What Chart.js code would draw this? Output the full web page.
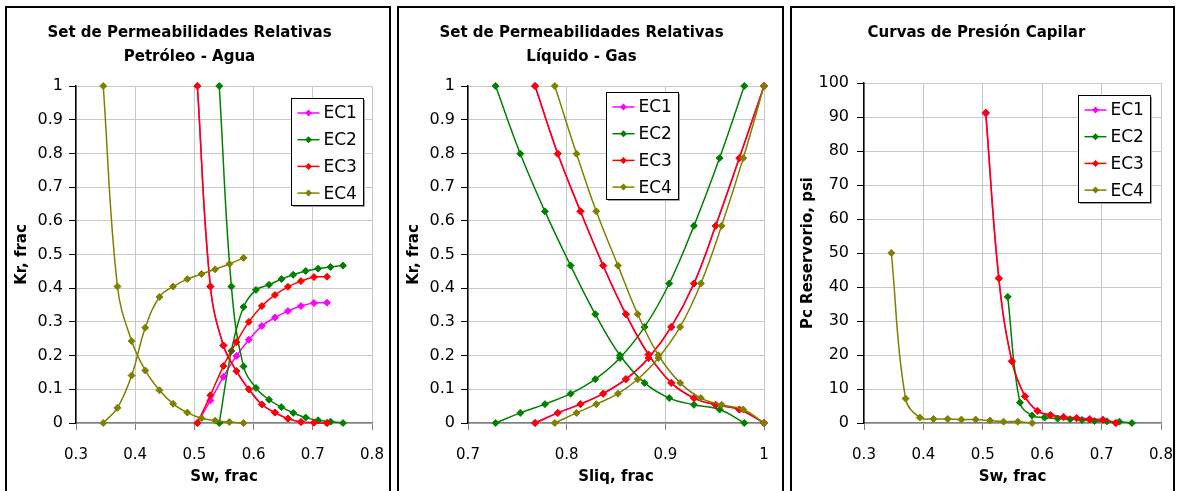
<!DOCTYPE html>
<html>
<head>
<meta charset="utf-8">
<script src="https://cdn.jsdelivr.net/npm/chart.js@4"></script>
<style>
  body { margin: 0; background: #fff; width: 1177px; height: 491px; overflow: hidden; position: relative; }
  .panel { position: absolute; top: 6px; height: 500px; border: 2px solid #000; box-sizing: border-box; background: #fff; overflow: hidden; }
  .panel canvas { position: absolute; left: 0; top: 0; }
</style>
</head>
<body>
<div class="panel" style="left:5px;width:386px"><canvas id="chartOW" width="382" height="483"></canvas></div>
<div class="panel" style="left:397px;width:387px"><canvas id="chartLG" width="383" height="483"></canvas></div>
<div class="panel" style="left:790px;width:385px"><canvas id="chartPC" width="381" height="483"></canvas></div>
<script>
/* ------------------------------------------------------------
   DATA
------------------------------------------------------------ */
const seriesNames = ["EC1", "EC2", "EC3", "EC4"];
const seriesColors = ["#FF00FF", "#008000", "#FF0000", "#808000"];

// Petróleo - Agua (Sw, Kro, Krw)
const swEC1 = [0.505, 0.527, 0.549, 0.571, 0.592, 0.614, 0.636, 0.658, 0.680, 0.702, 0.724];
const kroEC1 = [1, 0.405, 0.230, 0.154, 0.100, 0.055, 0.031, 0.013, 0.003, 0.001, 0];
const krwEC1 = [0, 0.067, 0.137, 0.199, 0.247, 0.288, 0.313, 0.332, 0.347, 0.356, 0.357];

const swEC2 = [0.542, 0.5625, 0.583, 0.604, 0.626, 0.647, 0.667, 0.688, 0.709, 0.730, 0.751];
const kroEC2 = [1, 0.405, 0.168, 0.104, 0.069, 0.047, 0.030, 0.016, 0.008, 0.004, 0];
const krwEC2 = [0, 0.214, 0.344, 0.395, 0.410, 0.427, 0.440, 0.451, 0.458, 0.463, 0.467];

const swEC3 = [0.505, 0.527, 0.549, 0.571, 0.592, 0.614, 0.636, 0.658, 0.680, 0.702, 0.724];
const kroEC3 = [1, 0.405, 0.230, 0.154, 0.100, 0.055, 0.031, 0.013, 0.003, 0.001, 0];
const krwEC3 = [0, 0.082, 0.169, 0.240, 0.300, 0.347, 0.380, 0.404, 0.421, 0.433, 0.434];

const swEC4 = [0.346, 0.370, 0.394, 0.417, 0.441, 0.464, 0.488, 0.512, 0.535, 0.559, 0.583];
const kroEC4 = [1, 0.405, 0.243, 0.156, 0.097, 0.057, 0.031, 0.014, 0.007, 0.003, 0];
const krwEC4 = [0, 0.045, 0.141, 0.283, 0.374, 0.405, 0.427, 0.442, 0.456, 0.472, 0.490];

// Líquido - Gas (Sliq, Krg, Krl)
const sliqEC1 = [0.768, 0.791, 0.814, 0.837, 0.860, 0.883, 0.906, 0.929, 0.951, 0.975, 1.0];
const krgEC1 = [1, 0.799, 0.628, 0.467, 0.323, 0.203, 0.119, 0.074, 0.054, 0.040, 0];
const krlEC1 = [0, 0.030, 0.056, 0.087, 0.130, 0.193, 0.285, 0.414, 0.585, 0.786, 1];

const sliqEC2 = [0.728, 0.753, 0.778, 0.804, 0.829, 0.854, 0.879, 0.904, 0.929, 0.955, 0.980];
const krgEC2 = [1, 0.799, 0.628, 0.467, 0.323, 0.201, 0.119, 0.074, 0.054, 0.040, 0];
const krlEC2 = [0, 0.030, 0.056, 0.087, 0.130, 0.193, 0.285, 0.414, 0.585, 0.786, 1];

const sliqEC3 = [0.768, 0.791, 0.814, 0.837, 0.860, 0.883, 0.906, 0.929, 0.951, 0.975, 1.0];
const krgEC3 = [1, 0.799, 0.628, 0.467, 0.323, 0.203, 0.119, 0.074, 0.054, 0.040, 0];
const krlEC3 = [0, 0.030, 0.056, 0.087, 0.130, 0.193, 0.285, 0.414, 0.585, 0.786, 1];

const sliqEC4 = [0.788, 0.810, 0.830, 0.852, 0.872, 0.893, 0.915, 0.936, 0.957, 0.979, 1.0];
const krgEC4 = [1, 0.799, 0.628, 0.467, 0.323, 0.201, 0.119, 0.074, 0.054, 0.040, 0];
const krlEC4 = [0, 0.030, 0.056, 0.087, 0.130, 0.193, 0.285, 0.414, 0.585, 0.786, 1];

// Presión capilar (Sw, Pc psi)
const pcEC1 = [91.0, 42.6, 18.2, 7.9, 3.6, 2.4, 1.8, 1.5, 1.2, 1.0, 0];
const pcEC2 = [37.1, 6.0, 2.2, 1.6, 1.3, 1.1, 0.9, 0.6, 0.5, 0.4, 0];
const pcEC3 = [91.3, 42.5, 18.1, 7.8, 3.5, 2.3, 1.7, 1.4, 1.0, 0.9, 0];
const pcEC4 = [50, 7.2, 1.6, 1.2, 1.2, 1.0, 1.0, 0.7, 0.4, 0.4, 0];

/* ------------------------------------------------------------
   HELPERS
------------------------------------------------------------ */
Chart.defaults.font.family = "'DejaVu Sans', sans-serif";
Chart.defaults.font.size = 15;
Chart.defaults.color = "#000";

const pts = (xs, ys) => xs.map((x, i) => ({ x, y: ys[i] }));
const tickFmt = v => String(Number(v.toFixed(3)));   // Excel style: "1", "0.1"

function series(xs, ys, i) {
  return {
    label: seriesNames[i],
    data: pts(xs, ys),
    borderColor: seriesColors[i],
    backgroundColor: seriesColors[i],
    borderWidth: 1.5,
    pointStyle: "rectRot",
    pointRadius: 3.5,
    pointBorderWidth: 1,
    tension: 0.4,
    clip: false
  };
}

// later series drawn on top (Chart.js draws dataset 0 last)
const stack = list => list.slice().reverse();

// boxed legend inside the plot, like the Excel one
const boxLegend = {
  id: "boxLegend",
  afterDatasetsDraw(chart, args, opts) {
    const { ctx, chartArea } = chart;
    const x0 = Math.round(chartArea.left + opts.dx), y0 = Math.round(chartArea.top + opts.dy);
    const w = 72, h = 107;
    ctx.save();
    ctx.fillStyle = "#fff";
    ctx.fillRect(x0, y0, w, h);
    ctx.strokeStyle = "#000";
    ctx.lineWidth = 1;
    ctx.strokeRect(x0 + 0.5, y0 + 0.5, w, h);
    ctx.strokeStyle = "#a0a0a0";
    ctx.beginPath();
    ctx.moveTo(x0 + w + 1.5, y0 + 2); ctx.lineTo(x0 + w + 1.5, y0 + h + 1.5); ctx.lineTo(x0 + 2, y0 + h + 1.5);
    ctx.stroke();
    seriesNames.forEach((name, i) => {
      const y = y0 + 15 + i * 26.7;
      const c = seriesColors[i];
      ctx.strokeStyle = c;
      ctx.lineWidth = 1.5;
      ctx.beginPath();
      ctx.moveTo(x0 + 6.5, y); ctx.lineTo(x0 + 28.5, y);
      ctx.stroke();
      const mx = x0 + 17.5, r = 3.5;
      ctx.fillStyle = c;
      ctx.beginPath();
      ctx.moveTo(mx, y - r); ctx.lineTo(mx + r, y); ctx.lineTo(mx, y + r); ctx.lineTo(mx - r, y);
      ctx.closePath();
      ctx.fill();
      ctx.fillStyle = "#000";
      ctx.font = "17px 'DejaVu Sans', sans-serif";
      ctx.textBaseline = "middle";
      ctx.fillText(name, x0 + 32.5, y + 1);
    });
    ctx.restore();
  }
};

function axes(cfg) {
  return {
    x: {
      type: "linear", min: cfg.xMin, max: cfg.xMax,
      ticks: { stepSize: cfg.xStep, padding: 16, maxRotation: 0, autoSkip: false, callback: tickFmt },
      grid: { color: "#c8c8c8", tickColor: "#808080", tickLength: 7 },
      border: { color: "#808080", width: 1.5 },
      title: { display: true, text: cfg.xTitle, font: { size: 15, weight: "bold" }, padding: { top: 0, bottom: 5 } },
      // fixed height; side overflow is covered by the layout padding
      afterFit: s => { s.height = 68; s.paddingLeft = 0; s.paddingRight = 0; }
    },
    y: {
      type: "linear", min: cfg.yMin, max: cfg.yMax,
      ticks: { stepSize: cfg.yStep, padding: cfg.yTickPad, autoSkip: false, font: { size: 16 }, callback: tickFmt },
      grid: { color: "#c8c8c8", tickColor: "#000", tickLength: 7 },
      border: { color: "#000", width: 1.5 },
      title: { display: true, text: cfg.yTitle, font: { size: 15, weight: "bold" }, padding: { top: cfg.yTitlePad, bottom: 0 } },
      afterFit: s => { s.width = cfg.yWidth; }
    }
  };
}

function makeChart(id, datasets, cfg) {
  return new Chart(document.getElementById(id), {
    type: "line",
    data: { datasets },
    options: {
      responsive: false,
      devicePixelRatio: 1,
      animation: false,
      layout: { padding: { left: 0, right: cfg.padRight, top: 0, bottom: 0 } },
      scales: axes(cfg),
      plugins: {
        legend: { display: false },
        tooltip: { enabled: false },
        title: {
          display: true, text: cfg.title,
          font: { size: 15, weight: "bold", lineHeight: 1.6 },
          padding: { top: 13, bottom: cfg.titleBottom }
        },
        boxLegend: { dx: cfg.legDx, dy: cfg.legDy }
      }
    },
    plugins: [boxLegend]
  });
}

/* ------------------------------------------------------------
   CHARTS
------------------------------------------------------------ */
makeChart("chartOW", stack([
  series(swEC1, kroEC1, 0), series(swEC1, krwEC1, 0),
  series(swEC2, kroEC2, 1), series(swEC2, krwEC2, 1),
  series(swEC3, kroEC3, 2), series(swEC3, krwEC3, 2),
  series(swEC4, kroEC4, 3), series(swEC4, krwEC4, 3)
]), {
  title: ["Set de Permeabilidades Relativas", "Petróleo - Agua"], titleBottom: 17,
  xMin: 0.3, xMax: 0.8, xStep: 0.1, yMin: 0, yMax: 1, yStep: 0.1,
  xTitle: "Sw, frac", yTitle: "Kr, frac",
  yWidth: 69, yTickPad: 6, yTitlePad: 6, padRight: 17, legDx: 214.7, legDy: 11.7
});

makeChart("chartLG", stack([
  series(sliqEC1, krgEC1, 0), series(sliqEC1, krlEC1, 0),
  series(sliqEC2, krgEC2, 1), series(sliqEC2, krlEC2, 1),
  series(sliqEC3, krgEC3, 2), series(sliqEC3, krlEC3, 2),
  series(sliqEC4, krgEC4, 3), series(sliqEC4, krlEC4, 3)
]), {
  title: ["Set de Permeabilidades Relativas", "Líquido - Gas"], titleBottom: 17,
  xMin: 0.7, xMax: 1.0, xStep: 0.1, yMin: 0, yMax: 1, yStep: 0.1,
  xTitle: "Sliq, frac", yTitle: "Kr, frac",
  yWidth: 69, yTickPad: 6, yTitlePad: 6, padRight: 18, legDx: 137.7, legDy: 5.7
});

makeChart("chartPC", stack([
  series(swEC1, pcEC1, 0),
  series(swEC2, pcEC2, 1),
  series(swEC3, pcEC3, 2),
  series(swEC4, pcEC4, 3)
]), {
  title: "Curvas de Presión Capilar", titleBottom: 38,
  xMin: 0.3, xMax: 0.8, xStep: 0.1, yMin: 0, yMax: 100, yStep: 10,
  xTitle: "Sw, frac", yTitle: "Pc Reservorio, psi",
  yWidth: 72, yTickPad: 8, yTitlePad: 7, padRight: 12, legDx: 213.7, legDy: 12
});
</script>
</body>
</html>
